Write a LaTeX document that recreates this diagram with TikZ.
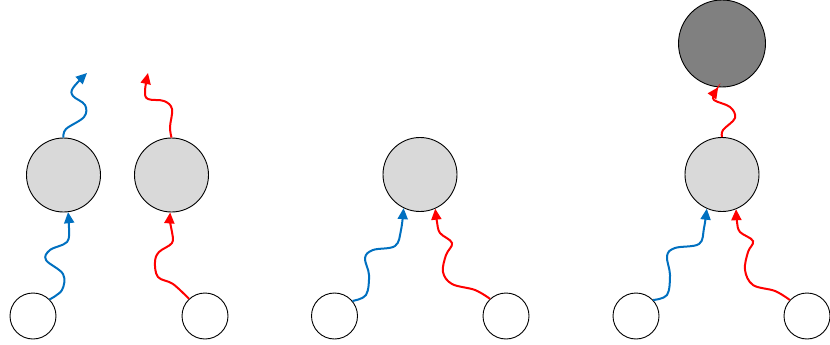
\documentclass[tikz,border=0pt]{standalone}
\usetikzlibrary{arrows.meta}
\definecolor{wblue}{HTML}{0070C0}
\definecolor{wred}{HTML}{FF0000}
\definecolor{lgray}{HTML}{D9D9D9}
\definecolor{dgray}{HTML}{808080}
\tikzset{
  leaf/.style={circle,draw=black,line width=0.9pt,fill=white,minimum size=46pt,inner sep=0pt},
  mid/.style={circle,draw=black,line width=0.9pt,fill=lgray,minimum size=74pt,inner sep=0pt},
  top/.style={circle,draw=black,line width=0.9pt,fill=dgray,minimum size=87pt,inner sep=0pt},
  wave/.style={line width=2pt,-{Triangle[length=11pt,width=10pt]}},
}
\begin{document}
\begin{tikzpicture}[x=1pt,y=-1pt]
\useasboundingbox (0,0) rectangle (830,345);
% group 1
\node[leaf] (s1) at (33,316) {};
\node[mid] (g1) at (63.5,175) {};
\node[mid] (g2) at (171.5,175) {};
\node[leaf] (s2) at (205,316) {};
\coordinate (e1) at (87,73);
\coordinate (e2) at (148,73);
\draw[wave,wblue] plot[smooth,tension=0.6] coordinates {(s1.45) (62,290) (63,274) (46,260) (50,250) (67,242) (69,228) (g1.-83)};
\draw[wave,wblue] plot[smooth,tension=0.6] coordinates {(g1.90) (66,129) (84,117) (85,105) (73,96) (73,88) (e1)};
\draw[wave,wred] plot[smooth,tension=0.6] coordinates {(s2.133) (173,284) (158,277) (155,262) (159,252) (172,243) (172,232) (170,222) (g2.-92)};
\draw[wave,wred] plot[smooth,tension=0.6] coordinates {(g2.90) (170,127) (172,109) (164,101) (148,99) (145,91) (e2)};
% group 2
\node[leaf] (s3) at (334.5,316) {};
\node[mid] (g3) at (420,174.5) {};
\node[leaf] (s4) at (506,316) {};
\draw[wave,wblue] plot[smooth,tension=0.6] coordinates {(s3.40) (366,295) (369,275) (365,258) (373,250) (395,246) (401,230) (g3.-116)};
\draw[wave,wred] plot[smooth,tension=0.6] coordinates {(s4.133) (475,290) (452,284) (443,272) (446,255) (452,243) (440,233) (437,222) (g3.-66)};
% group 3
\node[leaf] (s5) at (636,316) {};
\node[mid] (g4) at (722,174.5) {};
\node[top] (d) at (722,43.5) {};
\node[leaf] (s6) at (807,316) {};
\draw[wave,wblue] plot[smooth,tension=0.6] coordinates {(s5.43) (667,295) (670,275) (667,256) (675,248) (699,244) (704,228) (g4.-114)};
\draw[wave,wred] plot[smooth,tension=0.6] coordinates {(s6.137) (775,291) (753,285) (745,270) (748,252) (753,241) (740,232) (737,222) (g4.-68)};
\draw[wave,wred] plot[smooth,tension=0.6] coordinates {(g4.90) (723,130) (735,118) (730,107) (714,100) (715,93) (d.-95)};
\end{tikzpicture}
\end{document}
